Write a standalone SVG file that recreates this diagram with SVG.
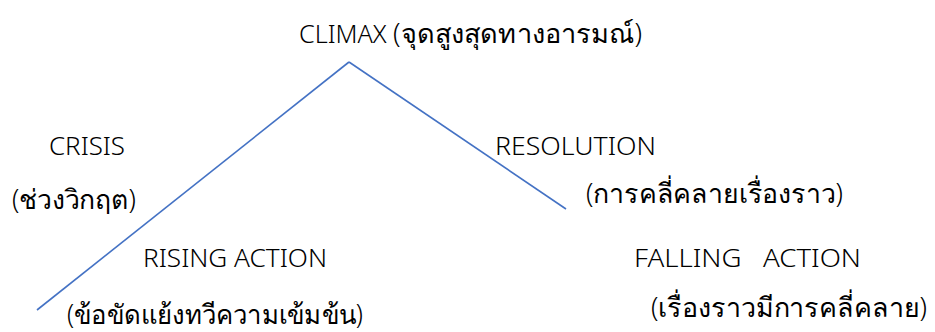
<svg xmlns="http://www.w3.org/2000/svg" width="935" height="332" viewBox="0 0 935 332">
<style>
.t{font-family:"Noto Sans","Open Sans","DejaVu Sans",sans-serif;font-size:25px;font-weight:300;fill:#000}
.th{font-size:27px}
.ln{stroke:#4472C4;stroke-width:1.6;fill:none}
</style>
<rect width="935" height="332" fill="#fff"/>
<g id="connectors">
<line class="ln" x1="37" y1="310" x2="349" y2="62"/>
<line class="ln" x1="349" y1="62" x2="566" y2="209"/>
</g>
<g id="climax"><text class="t" x="299" y="43" textLength="343" lengthAdjust="spacingAndGlyphs">CLIMAX <tspan class="th">(จุดสูงสุดทางอารมณ์)</tspan></text></g>
<g id="crisis"><text class="t" x="49" y="155" textLength="76" lengthAdjust="spacingAndGlyphs">CRISIS</text><text class="t th" x="12" y="209" textLength="124" lengthAdjust="spacingAndGlyphs">(ช่วงวิกฤต)</text></g>
<g id="resolution"><text class="t" x="495" y="155" textLength="161" lengthAdjust="spacingAndGlyphs">RESOLUTION</text><text class="t th" x="586" y="203" textLength="257" lengthAdjust="spacingAndGlyphs">(การคลี่คลายเรื่องราว)</text></g>
<g id="rising"><text class="t" x="143" y="267" textLength="184" lengthAdjust="spacingAndGlyphs">RISING ACTION</text><text class="t th" x="67" y="324" textLength="296" lengthAdjust="spacingAndGlyphs">(ข้อขัดแย้งทวีความเข้มข้น)</text></g>
<g id="falling"><text class="t" x="634" y="267" xml:space="preserve" textLength="227" lengthAdjust="spacingAndGlyphs">FALLING   ACTION</text><text class="t th" x="651" y="317" textLength="276" lengthAdjust="spacingAndGlyphs">(เรื่องราวมีการคลี่คลาย)</text></g>
</svg>
